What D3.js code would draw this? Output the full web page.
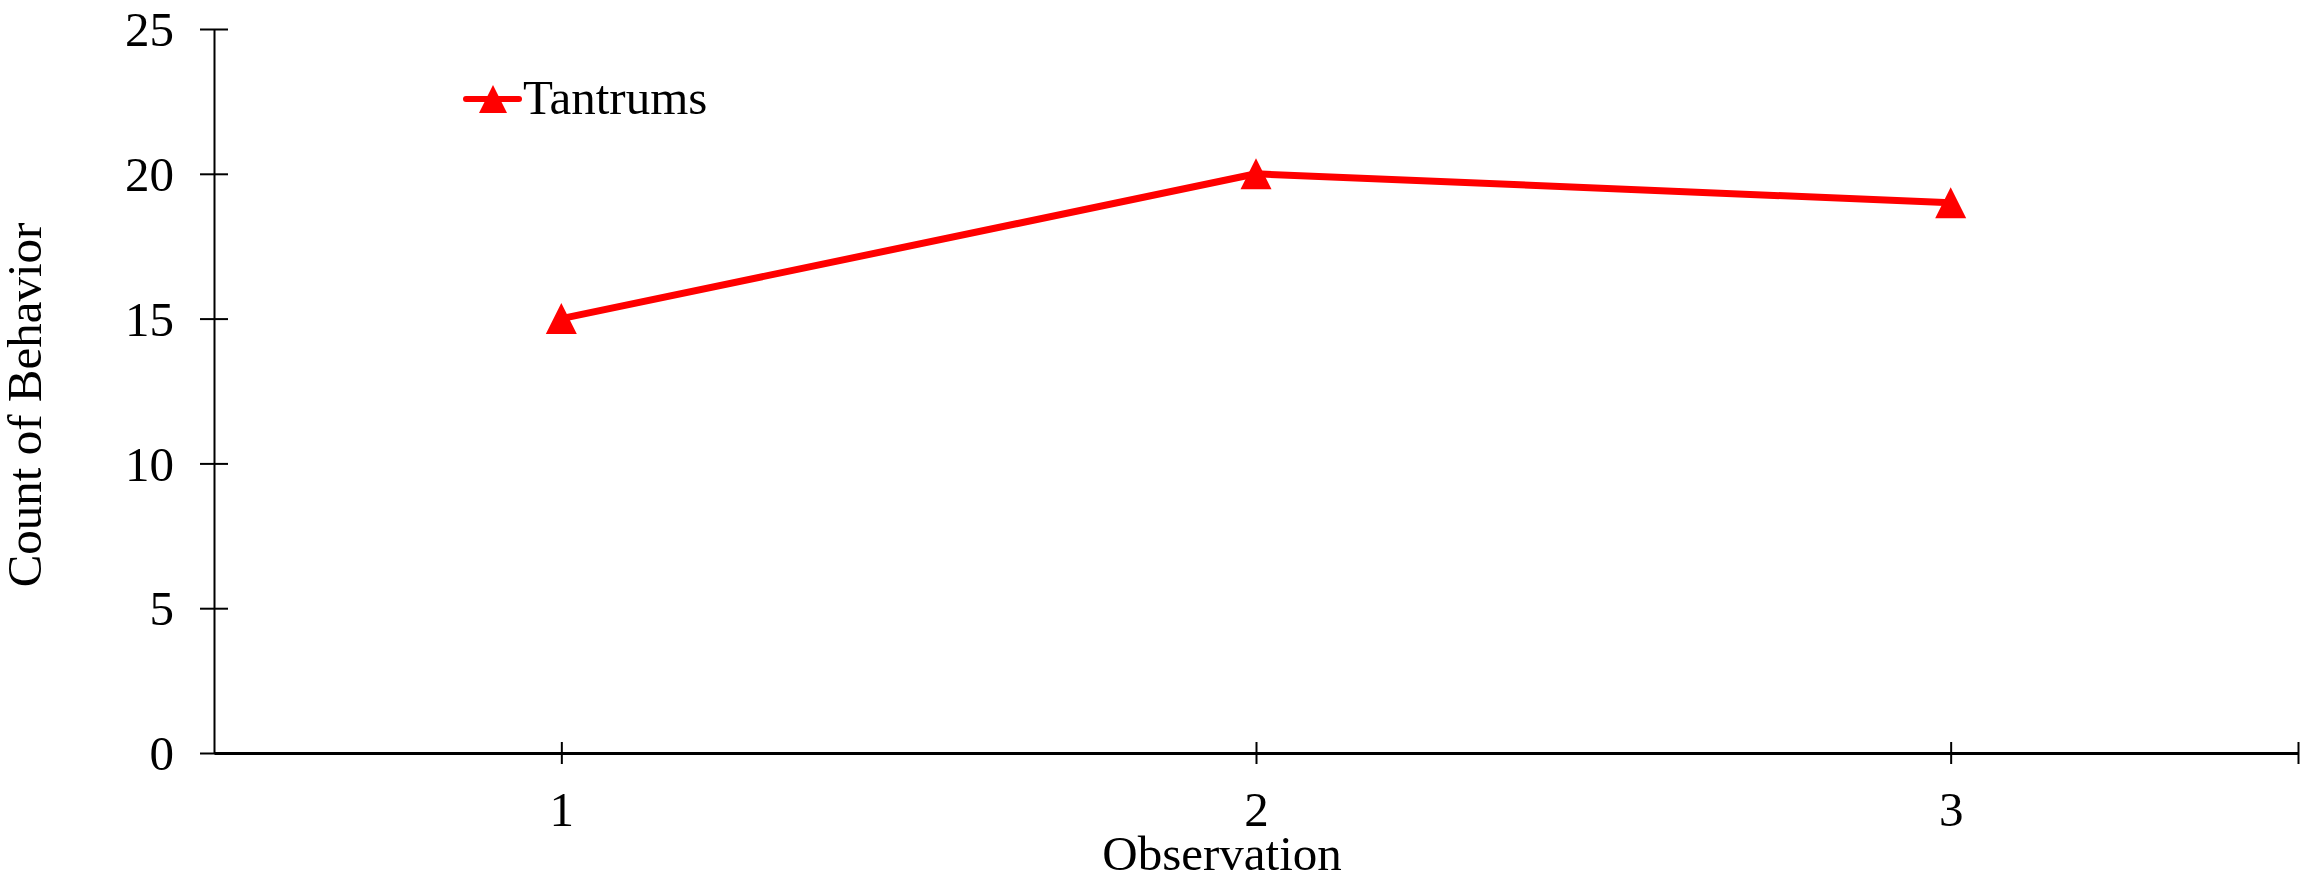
<!DOCTYPE html>
<html>
<head>
<meta charset="utf-8">
<script src="https://cdn.jsdelivr.net/npm/d3@7"></script>
<style>
  body { margin: 0; background: #fff; }
  svg text { font-family: "Liberation Serif", "Times New Roman", serif; fill: #000; }
</style>
</head>
<body>
<svg id="chart" width="2305" height="879"></svg>
<script>
const observations = [1, 2, 3];
const tantrums = [15, 20, 19];
const yTicks = [0, 5, 10, 15, 20, 25];
const xTicks = [1, 2, 3, 3.5];
const seriesName = 'Tantrums';

const svg = d3.select('#chart');

const x = d3.scaleLinear().domain([0.5, 3.5]).range([214, 2298]);
const y = d3.scaleLinear().domain([0, 25]).range([753, 29]);

const fontSize = 49;

// y axis
const yAxisG = svg.append('g')
    .attr('transform', `translate(${x(0.5)},0)`)
    .call(d3.axisLeft(y).tickValues(yTicks).tickSize(0).tickPadding(40));

yAxisG.select('.domain').attr('stroke', '#000').attr('stroke-width', 2);
yAxisG.selectAll('.tick line').remove();
yAxisG.selectAll('.tick').append('line')
    .attr('x1', -14).attr('x2', 14)
    .attr('stroke', '#000').attr('stroke-width', 2);
yAxisG.selectAll('.tick text')
    .attr('font-size', fontSize)
    .attr('dy', '0.34em');

// x axis
const xAxisG = svg.append('g')
    .attr('transform', `translate(0,${y(0)})`)
    .call(d3.axisBottom(x).tickValues(xTicks).tickSize(0)
        .tickFormat(d => observations.includes(d) ? d3.format('d')(d) : ''));

xAxisG.select('.domain').attr('stroke', '#000').attr('stroke-width', 3);
xAxisG.selectAll('.tick line').remove();
xAxisG.selectAll('.tick').append('line')
    .attr('y1', -11).attr('y2', 11)
    .attr('stroke', '#000').attr('stroke-width', 2);
xAxisG.selectAll('.tick text')
    .attr('font-size', fontSize)
    .attr('y', 73)
    .attr('dy', 0);

// axis titles
svg.append('text')
    .attr('x', 1222)
    .attr('y', 870)
    .attr('text-anchor', 'middle')
    .attr('font-size', fontSize)
    .text('Observation');

svg.append('text')
    .attr('transform', `translate(41,${(y(0) + y(25)) / 2 + 14}) rotate(-90)`)
    .attr('text-anchor', 'middle')
    .attr('font-size', fontSize)
    .text('Count of Behavior');

// series
const data = observations.map((o, i) => ({ obs: o, value: tantrums[i] }));

const line = d3.line()
    .x(d => x(d.obs))
    .y(d => y(d.value));

svg.append('path').datum(data)
    .attr('d', line)
    .attr('fill', 'none')
    .attr('stroke', '#ff0000')
    .attr('stroke-width', 7)
    .attr('stroke-linejoin', 'round');

const tri = s => `M0,${-s / 2}L${s / 2},${s / 2}L${-s / 2},${s / 2}Z`;

svg.append('g').selectAll('path.marker').data(data)
  .enter().append('path')
    .attr('class', 'marker')
    .attr('transform', d => `translate(${x(d.obs)},${y(d.value)})`)
    .attr('d', tri(31))
    .attr('fill', '#ff0000');

// legend
const legend = svg.append('g').attr('transform', 'translate(466,99)');

legend.append('line')
    .attr('x1', 0).attr('x2', 53)
    .attr('stroke', '#ff0000')
    .attr('stroke-width', 6)
    .attr('stroke-linecap', 'round');

legend.append('path')
    .attr('transform', 'translate(27,0)')
    .attr('d', tri(28))
    .attr('fill', '#ff0000');

legend.append('text')
    .attr('x', 57)
    .attr('y', 15)
    .attr('font-size', fontSize)
    .text(seriesName);
</script>
</body>
</html>
